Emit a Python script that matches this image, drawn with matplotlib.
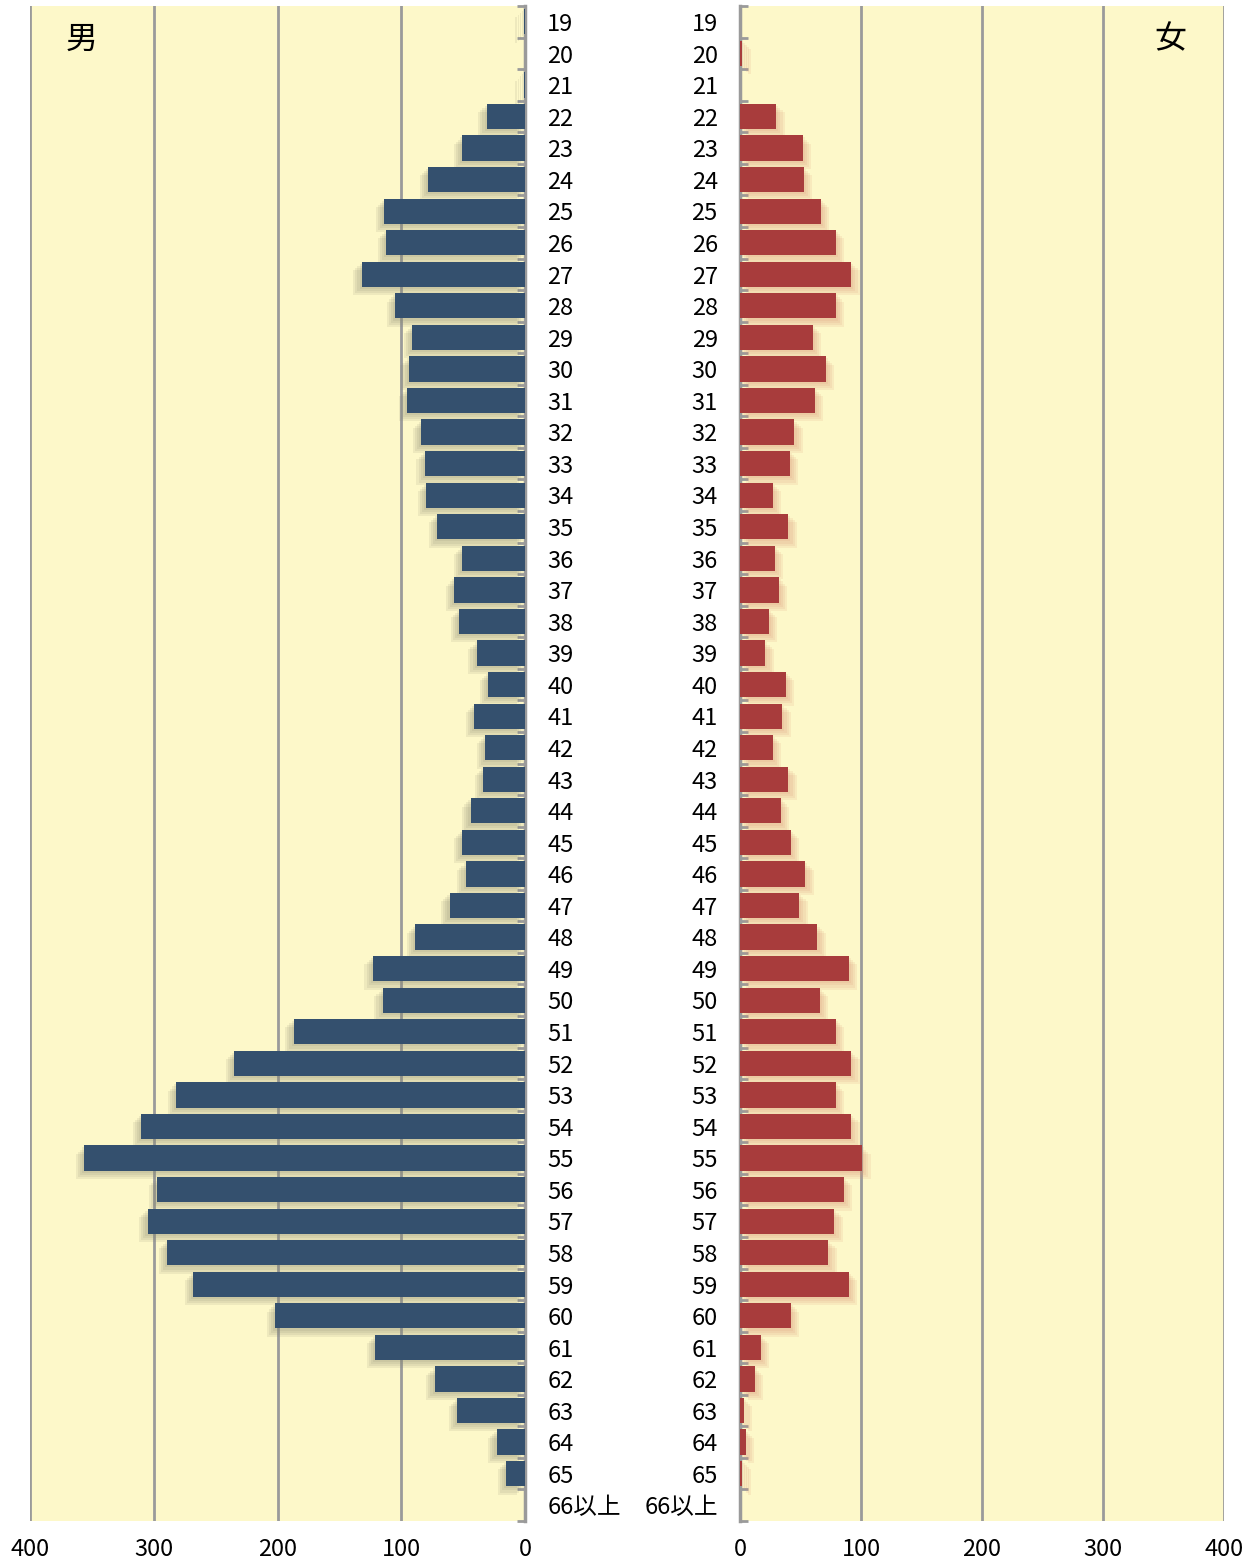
import matplotlib
matplotlib.use("Agg")
import matplotlib.pyplot as plt
import matplotlib.patheffects as pe
import numpy as np

ages = [str(a) for a in range(19, 66)] + ["66以上"]

male = [1, 0, 1, 31, 51, 78, 114, 112, 132, 105, 91, 94, 95, 84, 81, 80,
        71, 51, 57, 53, 39, 30, 41, 32, 34, 44, 51, 48, 61, 89, 123, 115,
        187, 235, 282, 310, 356, 297, 305, 289, 268, 202, 121, 73, 55, 23,
        15, 0]
female = [0, 2, 0, 30, 52, 53, 67, 79, 92, 79, 60, 71, 62, 45, 41, 27,
          40, 29, 32, 24, 21, 38, 35, 27, 40, 34, 42, 54, 49, 64, 90, 66,
          79, 92, 79, 92, 101, 86, 78, 73, 90, 42, 17, 12, 3, 5, 2, 0]
xticks = [0, 100, 200, 300, 400]

BG = "#fdf8c9"
NAVY = "#34506e"
RED = "#a83c3c"
GRID = "#9a9a9a"
LABEL_FONT = ["Noto Sans CJK JP", "DejaVu Sans"]

W, H = 1257, 1564
fig = plt.figure(figsize=(W / 100, H / 100), dpi=100)

top, bot = 6, 1521
ax_m = fig.add_axes([30 / W, 1 - bot / H, 495 / W, (bot - top) / H])
ax_f = fig.add_axes([740 / W, 1 - bot / H, 484 / W, (bot - top) / H])

y = np.arange(len(ages))
bounds = np.arange(len(ages) + 1) - 0.5


def soft_shadow(dx, shade):
    # a few stacked faint offsets to fake the blurred drop shadow
    fx = [pe.SimplePatchShadow(offset=(dx * k, -k), shadow_rgbFace=shade,
                               alpha=0.13, rho=1.0) for k in (1.5, 3, 4.5, 6)]
    return fx + [pe.Normal()]


for ax, vals, color, dx, shade in [(ax_m, male, NAVY, -1, "#8a8a70"),
                                   (ax_f, female, RED, 1, "#d89070")]:
    ax.set_facecolor(BG)
    ax.set_xlim(0, 400)
    ax.set_ylim(len(ages) - 0.5, -0.5)
    ax.set_xticks(xticks)
    ax.xaxis.grid(True, color=GRID, lw=2)
    ax.set_axisbelow(True)
    bars = ax.barh(y, vals, height=0.8, color=color, zorder=3)
    for b in bars:
        b.set_path_effects(soft_shadow(dx, shade))
    for s in ax.spines.values():
        s.set_visible(False)
    ax.set_yticks(bounds)
    ax.set_yticklabels([])
    ax.tick_params(axis="y", direction="in", length=6, width=2, color=GRID)
    ax.tick_params(axis="x", length=0, pad=12, labelsize=17)
    for lab in ax.get_xticklabels():
        lab.set_family(LABEL_FONT)

ax_m.invert_xaxis()
ax_m.spines["right"].set_visible(True)
ax_m.spines["right"].set_color(GRID)
ax_m.spines["right"].set_linewidth(2.5)
ax_m.yaxis.tick_right()
ax_m.tick_params(axis="y", direction="in", length=6, width=2, color=GRID)

ax_f.spines["left"].set_visible(True)
ax_f.spines["left"].set_color(GRID)
ax_f.spines["left"].set_linewidth(2.5)

for i, a in enumerate(ages):
    ax_m.annotate(a, xy=(1, i), xycoords=("axes fraction", "data"),
                  xytext=(16, -2), textcoords="offset points",
                  ha="left", va="center", fontsize=17, family=LABEL_FONT)
    ax_f.annotate(a, xy=(0, i), xycoords=("axes fraction", "data"),
                  xytext=(-16, -2), textcoords="offset points",
                  ha="right", va="center", fontsize=17, family=LABEL_FONT)

ax_m.text(0.105, 0.978, "男", transform=ax_m.transAxes, ha="center", va="center",
          fontsize=23, family=["Noto Sans CJK JP"])
ax_f.text(0.89, 0.978, "女", transform=ax_f.transAxes, ha="center", va="center",
          fontsize=23, family=["Noto Sans CJK JP"])

fig.savefig("out.png", dpi=100, facecolor="white")
